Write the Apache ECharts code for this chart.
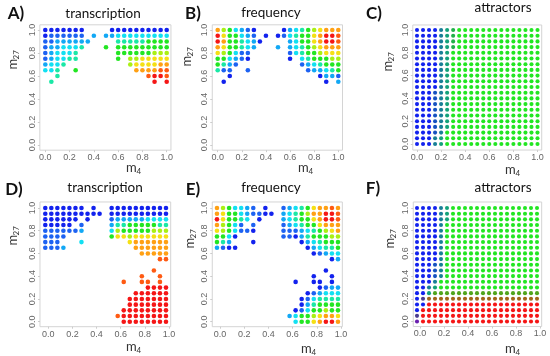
<!DOCTYPE html>
<html><head><meta charset="utf-8">
<script src="https://cdn.jsdelivr.net/npm/echarts@6/dist/echarts.min.js"></script>
<style>html,body{margin:0;padding:0;background:#fff}#c{width:550px;height:356px}</style>
</head><body><div id="c"></div>
<script>
// ---- data ----
// m4 grid positions (x) as drawn in the top panels and (shifted) in the bottom panels
const m4Top = [0,0.05,0.1,0.15,0.2,0.25,0.3,0.35,0.4,0.45,0.5,0.55,0.6,0.65,0.7,0.75,0.8,0.85,0.9,0.95,1.0];
const m4Bottom = [-0.025,0.025,0.075,0.125,0.175,0.225,0.275,0.325,0.375,0.425,0.475,0.525,0.575,0.625,0.675,0.725,0.775,0.825,0.875,0.925,0.975];
// m27 grid positions (rows, top to bottom)
const m27 = [1.0,0.95,0.9,0.85,0.8,0.75,0.7,0.65,0.6,0.55,0.5,0.45,0.4,0.35,0.3,0.25,0.2,0.15,0.1,0.05,0.0];
const tickValues = [0,0.2,0.4,0.6,0.8,1.0];
const panelLetters = ['A)','B)','C)','D)','E)','F)'];
const panelTitles = ['transcription','frequency','attractors','transcription','frequency','attractors'];

// colour class of each cell, row by row from m27=1.0 down; '.' = no point
// (each row: cols m4 0-6 | 7-13 | 14-20)
const transcriptionA = [
 'bbbbbbb'+'....bbb'+'bbbbbbb',
 'bBBBBBB'+'.s.sscc'+'ccccccc',
 'BBsssss'+'s....tt'+'tttgggg',
 'Bssccct'+'...g.gg'+'ggggggg',
 'Bsccct.'+'.....gg'+'gggglll',
 'Bscctt.'+'.....g.'+'llyyyyy',
 'scct...'+'.......'+'lyyyyoo',
 'cct..g.'+'.......'+'.oooorr',
 '..t....'+'.......'+'...rRRr',
 '.t.....'+'.......'+'....R.R'
];
const frequencyB = [
 'olgcsBb'+'....bsc'+'tglyooo',
 'RyggcsB'+'.b.bBct'+'ggyoRRr',
 'Roggtcs'+'b....sc'+'ggyoRRr',
 'oyggtcs'+'...s.sc'+'tglyooo',
 'ylgcBB.'+'.....Bc'+'tgglyyy',
 'ggcsBb.'+'.....b.'+'ctgggll',
 'gtsB...'+'.......'+'Bsctggg',
 'tBB..B.'+'.......'+'.Bssctg',
 '..b....'+'.......'+'...bssB',
 '.b.....'+'.......'+'....b.s'
];
const attractorsC = [
 'bbbbqek'+'ggggggg'+'ggggggg',
 'bbbbqek'+'ggggggg'+'ggggggg',
 'bbbbqek'+'ggggggg'+'ggggggg',
 'bbbbqek'+'ggggggg'+'ggggggg',
 'bbbbqeg'+'ggggggg'+'ggggggg',
 'bbbbqeg'+'ggggggg'+'ggggggg',
 'bbbbqeg'+'ggggggg'+'ggggggg',
 'bbbbqeg'+'ggggggg'+'ggggggg',
 'bbbbqeg'+'ggggggg'+'ggggggg',
 'bbbbqeg'+'ggggggg'+'ggggggg',
 'bbbbqeg'+'ggggggg'+'ggggggg',
 'bbbnqeg'+'ggggggg'+'ggggggg',
 'bbbnqeg'+'ggggggg'+'ggggggg',
 'bbbnqeg'+'ggggggg'+'ggggggg',
 'bbbnqeg'+'ggggggg'+'ggggggg',
 'bbbnqeg'+'ggggggg'+'ggggggg',
 'bbbnqeg'+'ggggggg'+'ggggggg',
 'bbbnqeg'+'ggggggg'+'ggggggg',
 'bbbnqgg'+'ggggggg'+'ggggggg',
 'bbbqegg'+'ggggggg'+'ggggggg',
 'bbbqegg'+'ggggggg'+'ggggggg'
];
const transcriptionD = [
 'bbbbbbb'+'.b..bbb'+'bbbbbbb',
 'bbbbbbb'+'bbb.bbb'+'bbbbbbb',
 'bbbbbb.'+'b...Bss'+'ssscccc',
 'bbbbb.B'+'....stt'+'gggggtt',
 'BBBBBBs'+'....clg'+'gggglll',
 'BBBB...'+'....gyy'+'lyyyyyy',
 'BBB...c'+'.......'+'yoooooo',
 'BBBs...'+'.......'+'.oooooo',
 '.......'+'.......'+'..ooooo',
 '.......'+'.......'+'.....rr',
 '.......'+'.......'+'.......',
 '.......'+'.......'+'....r..',
 '.......'+'.......'+'..r..r.',
 '.......'+'......r'+'..rr.r.',
 '.......'+'.......'+'...RRRR',
 '.......'+'.......'+'.RRRRRR',
 '.......'+'.......'+'RRRRRRR',
 '.......'+'.......'+'RRRRRRR',
 '.......'+'......R'+'RRRRRRR',
 '.......'+'.....rR'+'RRRRRRR',
 '.......'+'......R'+'RRRRRRR'
];
const frequencyE = [
 'olgccsB'+'.b..Bsc'+'tgyooro',
 'oyggcsB'+'Bbb.sct'+'glooRRr',
 'Ryggtc.'+'b...sct'+'ggyoRRr',
 'olgcB.B'+'....Bsc'+'tggyooo',
 'ylgcBBb'+'....BBB'+'sctglyo',
 'ggcb...'+'....BBb'+'stgggll',
 'gts...b'+'.......'+'bsctggg',
 'sBbb...'+'.......'+'.bscttg',
 '.......'+'.......'+'..bBscc',
 '.......'+'.......'+'.....bs',
 '.......'+'.......'+'.......',
 '.......'+'.......'+'....b..',
 '.......'+'.......'+'..b..b.',
 '.......'+'......b'+'..bb.b.',
 '.......'+'.......'+'...bBss',
 '.......'+'.......'+'.bBsccc',
 '.......'+'.......'+'bBctttt',
 '.......'+'.......'+'bstgggg',
 '.......'+'......b'+'Bcgglgg',
 '.......'+'.....sc'+'gglyooy',
 '.......'+'......c'+'ggyoRRo'
];
const attractorsF = [
 'bbbbqeg'+'ggggggg'+'ggggggg',
 'bbbbqeg'+'ggggggg'+'ggggggg',
 'bbbbqeg'+'ggggggg'+'ggggggg',
 'bbbbqgg'+'ggggggg'+'ggggggg',
 'bbbbqgg'+'ggggggg'+'ggggggg',
 'bbbbqgg'+'ggggggg'+'ggggggg',
 'bbbbqgg'+'ggggggg'+'ggggggg',
 'bbbbqgg'+'ggggggg'+'ggggggg',
 'bbbbqgg'+'ggggggg'+'ggggggg',
 'bbbbqgg'+'ggggggg'+'ggggggg',
 'bbbnqgg'+'ggggggg'+'ggggggg',
 'bbbnqgg'+'ggggggg'+'ggggggg',
 'bbbnqgg'+'ggggggg'+'ggggggg',
 'bbbqggg'+'ggggggg'+'ggggggg',
 'bbqeggg'+'ggggggg'+'ggggggg',
 'bbehhhh'+'hhhhhhh'+'hhhhhhh',
 'bpuuuuu'+'uuuuuuu'+'uuuuuuu',
 'bbRRRRR'+'RRRRRRR'+'RRRRRRR',
 'bRRRRRR'+'RRRRRRR'+'RRRRRRR',
 'pRRRRRR'+'RRRRRRR'+'RRRRRRR',
 'PRRRRRR'+'RRRRRRR'+'RRRRRRR'
];

// ---- styling ----
const palette = {b:'#1222ee', B:'#1d62f2', s:'#12a8f5', c:'#12e0f2', t:'#1ae8a6', g:'#22e622',
  l:'#aaf014', y:'#f5e014', o:'#ffa014', r:'#ff5a12', R:'#f51616',
  q:'#187f96', e:'#13a27a', n:'#1652c0', k:'#20b048', h:'#50a41c', u:'#a0661a', p:'#4b3d8f', P:'#6a1fb0'};

// layout of each panel: pixel of value 0, pixels per unit, axis range
const layout = [
 {px0:45.3, kx:121.4, xr:[-0.045,1.035], py0:145, ky:115, yr:[-0.045,1.045], size:4.6, xs:m4Top},
 {px0:217.7,kx:120.6, xr:[-0.045,1.035], py0:145, ky:115, yr:[-0.045,1.045], size:4.6, xs:m4Top},
 {px0:417,  kx:120.5, xr:[-0.035,1.035], py0:144, ky:114, yr:[-0.053,1.044], size:4.1, xs:m4Top},
 {px0:48.3, kx:120.7, xr:[-0.069,1.014], py0:321.7,ky:113.7,yr:[-0.044,1.053], size:4.6, xs:m4Bottom},
 {px0:220,  kx:121,   xr:[-0.064,1.011], py0:321.7,ky:113.7,yr:[-0.044,1.053], size:4.6, xs:m4Bottom},
 {px0:420,  kx:120,   xr:[-0.056,1.014], py0:321.5,ky:113.5,yr:[-0.044,1.053], size:4.1, xs:m4Bottom}
];
const matrices = [transcriptionA, frequencyB, attractorsC, transcriptionD, frequencyE, attractorsF];
const letterPos = [[16,14],[193,14],[374,14],[14,190],[193,190],[373,189]];
const titlePos = [[103,14],[271,13],[503,8],[105,188],[271,188],[503,188]];
const m4Pos = [[133,168],[305,168],[512,170],[133,347],[308,349],[512,349]];
const m27Pos = [[13,60],[187,57],[388,62],[13,236],[190,239],[390,239]];

const grids=[], xAxes=[], yAxes=[], series=[], graphics=[];
const labelStyle = {color:'#666', fontSize:9, fontFamily:'Liberation Sans', formatter: v => Number(v).toFixed(1)};
layout.forEach((L,i)=>{
  grids.push({left: L.px0 + L.xr[0]*L.kx, width:(L.xr[1]-L.xr[0])*L.kx,
              top: L.py0 - L.yr[1]*L.ky, height:(L.yr[1]-L.yr[0])*L.ky,
              show:true, borderColor:'#d4d4d4', borderWidth:1, backgroundColor:'#fff'});
  xAxes.push({type:'value', gridIndex:i, min:L.xr[0], max:L.xr[1], position:'bottom',
    axisLine:{show:false, onZero:false}, splitLine:{show:false},
    axisTick:{show:true, length:2, lineStyle:{color:'#ccc'}, customValues:tickValues},
    axisLabel:Object.assign({margin:3, customValues:tickValues}, labelStyle)});
  yAxes.push({type:'value', gridIndex:i, min:L.yr[0], max:L.yr[1], position:'left',
    axisLine:{show:false, onZero:false}, splitLine:{show:false},
    axisTick:{show:true, length:2, lineStyle:{color:'#ccc'}, customValues:tickValues},
    axisLabel:Object.assign({margin:3, rotate:90, customValues:tickValues}, labelStyle)});
  const data=[];
  matrices[i].forEach((row,r)=>{
    for(let c=0;c<row.length;c++){
      const k=row[c];
      if(k!=='.') data.push([L.xs[c], m27[r], k]);
    }
  });
  series.push({type:'scatter', xAxisIndex:i, yAxisIndex:i, data, symbolSize:L.size, silent:true,
    itemStyle:{color: p => palette[p.data[2]], opacity:1}});

  graphics.push({type:'text', x:letterPos[i][0], y:letterPos[i][1],
    style:{text:panelLetters[i], font:'bold 17px Lato', fill:'#111', textAlign:'center', textVerticalAlign:'middle'}});
  graphics.push({type:'text', x:titlePos[i][0], y:titlePos[i][1],
    style:{text:panelTitles[i], font:'13.5px Lato', fill:'#111', textAlign:'center', textVerticalAlign:'middle'}});
  graphics.push({type:'group', x:m4Pos[i][0], y:m4Pos[i][1], children:[
    {type:'text', x:-7, y:0, style:{text:'m', font:'13px Lato', fill:'#333', textAlign:'left', textVerticalAlign:'middle'}},
    {type:'text', x:3.5, y:3, style:{text:'4', font:'8px Lato', fill:'#333', textAlign:'left', textVerticalAlign:'middle'}}
  ]});
  graphics.push({type:'group', x:m27Pos[i][0], y:m27Pos[i][1], rotation:Math.PI/2, children:[
    {type:'text', x:-9.5, y:0, style:{text:'m', font:'13px Lato', fill:'#333', textAlign:'left', textVerticalAlign:'middle'}},
    {type:'text', x:0.5, y:3, style:{text:'27', font:'8px Lato', fill:'#333', textAlign:'left', textVerticalAlign:'middle'}}
  ]});
});

const chart = echarts.init(document.getElementById('c'));
chart.setOption({animation:false, backgroundColor:'#fff', grid:grids, xAxis:xAxes, yAxis:yAxes, series, graphic:graphics});
</script></body></html>
